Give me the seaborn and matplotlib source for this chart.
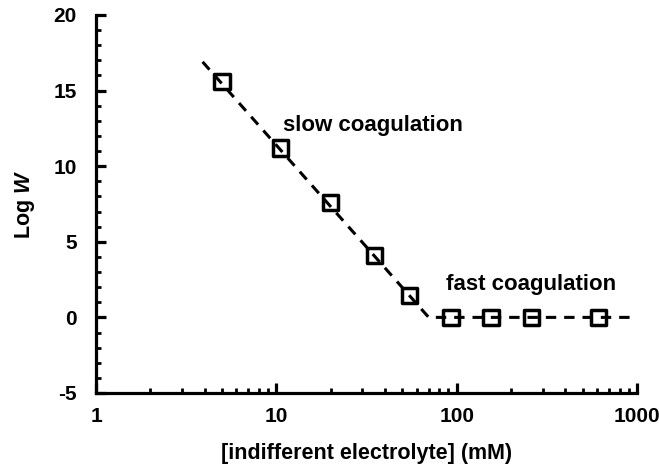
import matplotlib
matplotlib.use("Agg")
import matplotlib.pyplot as plt
import seaborn as sns
import pandas as pd
from matplotlib.ticker import LogLocator, FixedLocator, MultipleLocator, FuncFormatter

# data
conc_mM = [5, 10.5, 20, 35, 55, 93, 155, 260, 610]
log_w = [15.6, 11.2, 7.6, 4.1, 1.45, 0.0, 0.0, 0.0, 0.0]
fit_conc = [3.9, 70, 950]
fit_log_w = [16.9, 0.0, 0.0]
x_ticks = [1, 10, 100, 1000]
y_ticks = [-5, 0, 5, 10, 15, 20]

sns.set_theme(style="ticks")
plt.rcParams["font.family"] = ["Liberation Sans", "DejaVu Sans"]
plt.rcParams["font.weight"] = "bold"
plt.rcParams["axes.unicode_minus"] = False
plt.rcParams["text.color"] = "black"
plt.rcParams["axes.labelcolor"] = "black"
plt.rcParams["mathtext.fontset"] = "custom"
plt.rcParams["mathtext.it"] = "Liberation Sans:italic:bold"
plt.rcParams["mathtext.rm"] = "Liberation Sans:bold"

fig = plt.figure(figsize=(6.59, 4.74), dpi=100)
ax = fig.add_axes([0.1457, 0.1709, 0.8209, 0.7975])

pts = pd.DataFrame({"c": conc_mM, "w": log_w})
fit = pd.DataFrame({"c": fit_conc, "w": fit_log_w})

sns.lineplot(data=fit, x="c", y="w", ax=ax, color="black", linewidth=2.2,
             dashes=False, sort=False)
ax.lines[0].set_dashes([3.4, 2.6])
sns.scatterplot(data=pts, x="c", y="w", ax=ax, marker="s", s=120,
                facecolor="none", edgecolor="black", linewidth=2.5, zorder=3)

ax.set_xscale("log")
ax.set_xlim(1, 1000)
ax.set_ylim(-5, 20)
ax.xaxis.set_major_locator(FixedLocator(x_ticks))
ax.xaxis.set_minor_locator(LogLocator(base=10, subs=range(2, 10)))
ax.xaxis.set_major_formatter(FuncFormatter(lambda v, p: f"{int(round(v))}"))
ax.xaxis.set_minor_formatter(FuncFormatter(lambda v, p: ""))
ax.yaxis.set_major_locator(FixedLocator(y_ticks))
ax.yaxis.set_major_formatter(FuncFormatter(lambda v, p: f"{int(round(v))}"))
ax.yaxis.set_minor_locator(MultipleLocator(1))

for s in ["top", "right"]:
    ax.spines[s].set_visible(False)
for s in ["left", "bottom"]:
    ax.spines[s].set_linewidth(2.3)
    ax.spines[s].set_color("black")

ax.tick_params(axis="both", which="major", direction="in", length=7, width=2.3,
               colors="black", labelsize=15)
ax.tick_params(axis="both", which="minor", direction="in", length=3.5, width=2.0,
               colors="black")
ax.tick_params(axis="y", which="major", pad=14)
ax.tick_params(axis="x", which="major", pad=10)
for lab in ax.get_xticklabels() + ax.get_yticklabels():
    lab.set_fontweight("bold")
    lab.set_color("black")

ax.set_xlabel("[indifferent electrolyte] (mM)", fontsize=15.5, fontweight="bold",
              labelpad=12, color="black")
ax.set_ylabel(r"Log $\mathit{W}$", fontsize=15.5, fontweight="bold", labelpad=12,
              color="black")

ax.text(10.9, 12.7, "slow coagulation", fontsize=16, fontweight="bold",
        ha="left", va="center", color="black")
ax.text(87, 2.2, "fast coagulation", fontsize=16, fontweight="bold",
        ha="left", va="center", color="black")

ax.grid(False)
fig.savefig("out.png", dpi=100)
